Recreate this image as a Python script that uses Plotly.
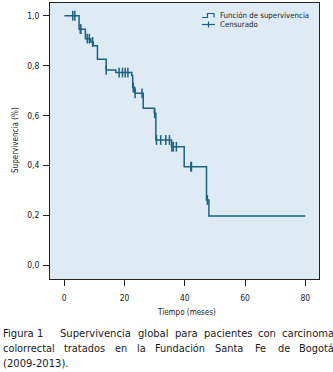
import numpy as np
import plotly.graph_objects as go

# ---- data ----
event_times = [0, 4.9, 7.0, 8.8, 9.6, 11.0, 13.9, 17.1, 22.4, 22.7, 23.4, 26.2,
               29.9, 30.4, 35.6, 39.8, 47.2, 48.0, 80]
survival = [1.0, 0.946, 0.908, 0.895, 0.880, 0.826, 0.783, 0.772, 0.760, 0.712,
            0.689, 0.629, 0.609, 0.502, 0.475, 0.395, 0.262, 0.197, 0.197]
censor_times = [2.8, 3.5, 5.3, 5.5, 7.6, 8.3, 9.4, 13.9, 18.2, 19.3, 20.2, 21.1,
                22.9, 23.5, 25.8, 30.0, 30.6, 32.0, 33.7, 34.9, 35.7, 36.2, 37.2,
                42.0, 42.2, 47.5]
x_ticks = [0, 20, 40, 60, 80]
y_ticks = [0.0, 0.2, 0.4, 0.6, 0.8, 1.0]

ev = np.array(event_times)
sv = np.array(survival)
ct = np.array(censor_times)
censor_vals = sv[np.searchsorted(ev, ct, side="right") - 1]

COL = "#1b6282"
BG = "#deebf5"
TXT = "#222222"
NARROW = "DejaVu Sans Condensed, Liberation Sans, sans-serif"
CAP = "DejaVu Sans, Verdana, sans-serif"

W, H = 333, 372
L, R, T, B = 50, 319, 3, 279  # plot area in pixels


def px(x):
    return (x - L) / (R - L)


def py(y):
    return (B - y) / (B - T)


fig = go.Figure()
fig.add_trace(go.Scatter(x=ev, y=sv, mode="lines", line=dict(color=COL, width=1.5, shape="hv"),
                         name="Función de supervivencia", showlegend=False, hoverinfo="skip"))
fig.add_trace(go.Scatter(x=ct, y=censor_vals, mode="markers",
                         marker=dict(symbol="line-ns", size=7, line=dict(color=COL, width=1.5)),
                         name="Censurado", showlegend=False, hoverinfo="skip"))

shapes = []
# legend icons
shapes.append(dict(type="path", xref="paper", yref="paper",
                   path=f"M {px(202)} {py(17.5)} L {px(207.5)} {py(17.5)} L {px(207.5)} {py(13.5)} "
                        f"L {px(214)} {py(13.5)} L {px(214)} {py(17.5)}",
                   line=dict(color=COL, width=1.2)))
shapes.append(dict(type="line", xref="paper", yref="paper", x0=px(202), x1=px(215),
                   y0=py(24.5), y1=py(24.5), line=dict(color=COL, width=1.2)))
shapes.append(dict(type="line", xref="paper", yref="paper", x0=px(208.5), x1=px(208.5),
                   y0=py(21.5), y1=py(27.5), line=dict(color=COL, width=1.2)))

ann = []
ann.append(dict(text="Función de supervivencia", x=px(218), y=py(15.5), xref="paper", yref="paper",
                xanchor="left", yanchor="middle", showarrow=False,
                font=dict(family=NARROW, size=7.8, color=TXT)))
ann.append(dict(text="Censurado", x=px(218), y=py(24.5), xref="paper", yref="paper",
                xanchor="left", yanchor="middle", showarrow=False,
                font=dict(family=NARROW, size=7.8, color=TXT)))
# axis titles
ann.append(dict(text="Supervivencia (%)", x=px(15), y=py(140), xref="paper", yref="paper",
                textangle=-90, xanchor="center", yanchor="middle", showarrow=False,
                font=dict(family=NARROW, size=8, color=TXT)))
ann.append(dict(text="Tiempo (meses)", x=px(186), y=py(312), xref="paper", yref="paper",
                xanchor="center", yanchor="middle", showarrow=False,
                font=dict(family=NARROW, size=8, color=TXT)))

# caption (justified by word placement)
line1 = [("Figura", 1, 10), ("1", 35, 10), ("Supervivencia", 58, 10), ("global", 136, 10),
         ("para", 172.5, 10), ("pacientes", 201.5, 10), ("con", 256, 10), ("carcinoma", 280, 10)]
line2 = [("colorrectal", 1, 9.8), ("tratados", 62, 9.8), ("en", 112.5, 9.8), ("la", 134.5, 9.8),
         ("Fundación", 152.5, 9.8), ("Santa", 212.5, 9.8), ("Fe", 253, 9.8), ("de", 275.5, 9.8),
         ("Bogotá", 297, 9.8)]
line3 = [("(2009-2013).", 1, 10)]
for words, yy in [(line1, 333.5), (line2, 348.5), (line3, 363)]:
    for w, xx, fs in words:
        ann.append(dict(text=w, x=px(xx), y=py(yy), xref="paper", yref="paper",
                        xanchor="left", yanchor="middle", showarrow=False,
                        font=dict(family=CAP, size=fs, color="#1a1a1a")))

fig.update_layout(
    width=W, height=H,
    margin=dict(l=L, r=W - R, t=T, b=H - B, pad=0),
    paper_bgcolor="white", plot_bgcolor=BG,
    separators=",.",
    showlegend=False,
    shapes=shapes, annotations=ann,
    xaxis=dict(range=[-4.75, 84.55], tickvals=x_ticks, tickformat="d", ticks="outside", ticklen=6,
               tickcolor=TXT, showgrid=False, zeroline=False, showline=True, mirror=True,
               linecolor=TXT, linewidth=1, ticklabelstandoff=5,
               tickfont=dict(family=NARROW, size=8.5, color=TXT)),
    yaxis=dict(range=[-0.055, 1.051], tickvals=y_ticks, tickformat=".1f", ticks="outside", ticklen=6,
               tickcolor=TXT, showgrid=False, zeroline=False, showline=True, mirror=True,
               linecolor=TXT, linewidth=1, ticklabelstandoff=2,
               tickfont=dict(family=NARROW, size=8.5, color=TXT)),
)

fig.write_html("out.html", config={"displayModeBar": False},
               post_script="document.body.style.margin='0px';")
